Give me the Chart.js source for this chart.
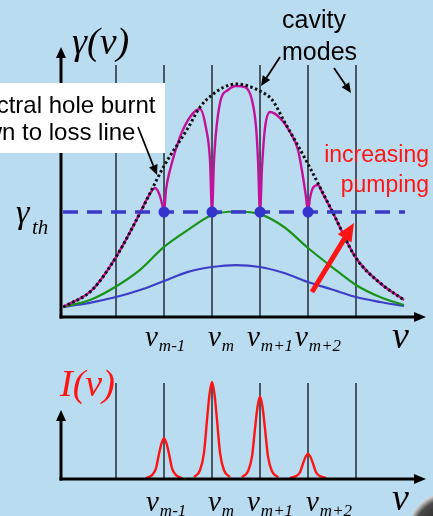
<!DOCTYPE html>
<html>
<head>
<meta charset="utf-8">
<script src="https://cdn.jsdelivr.net/npm/chart.js@4.4.1/dist/chart.umd.min.js"></script>
<style>
  body { margin: 0; width: 433px; height: 516px; overflow: hidden; background: #b9dcf0; position: relative; }
  canvas { position: absolute; left: 0; }
  #gainChart { top: 0; }
  #intChart { top: 360px; }
</style>
</head>
<body>
<canvas id="gainChart" width="433" height="360"></canvas>
<canvas id="intChart" width="433" height="156"></canvas>
<script>
// cavity modes (in units of mode spacing), lasing ones get labels
const modes = [1, 2, 3, 4, 5, 6];
const lasingModes = [2, 3, 4, 5];
const modeSubs = ['m-1', 'm', 'm+1', 'm+2'];

// unsaturated gain (dotted)
const fullX = [-0.1, 0.5, 1, 1.5, 2, 2.5, 2.75, 3, 3.25, 3.5, 3.75, 4, 4.25, 4.5, 5, 5.5, 6, 6.5, 7];
const fullGain = [0.095, 0.257, 0.571, 0.99, 1.438, 1.8, 2.0, 2.114, 2.19, 2.219, 2.2, 2.152, 2.07, 1.867, 1.457, 1.01, 0.562, 0.324, 0.162];

// gain with spectral holes burnt (magenta)
const burntX = [-0.1, 0.5, 1, 1.5, 1.646, 1.8125, 1.917, 1.979, 2, 2.042, 2.125, 2.333, 2.542, 2.75, 2.875, 2.958, 3,
  3.042, 3.167, 3.333, 3.5, 3.6875, 3.833, 3.917, 3.958, 4, 4.042, 4.104, 4.208, 4.417, 4.625, 4.792, 4.896, 4.958, 5,
  5.042, 5.104, 5.208, 5.3125, 5.5, 6, 6.5, 7];
const burntGain = [0.095, 0.257, 0.571, 0.99, 1.124, 1.229, 1.152, 1.038, 1.0, 1.21, 1.4, 1.714, 1.905, 1.981, 1.8, 1.495, 1.0,
  1.495, 2.038, 2.162, 2.2, 2.19, 2.067, 1.81, 1.495, 1.0, 1.429, 1.8, 1.952, 1.895, 1.762, 1.59, 1.333, 1.143, 1.0,
  1.133, 1.229, 1.257, 1.171, 1.01, 0.562, 0.324, 0.162];

// lower pumping levels (green, blue)
const lowX = [-0.1, 0.5, 1, 1.5, 2, 2.5, 3, 3.5, 4, 4.5, 5, 5.5, 6, 6.5, 7];
const midGain = [0.095, 0.17, 0.29, 0.448, 0.667, 0.829, 0.971, 1.005, 0.98, 0.857, 0.657, 0.476, 0.305, 0.19, 0.114];
const lowGain = [0.095, 0.14, 0.19, 0.257, 0.343, 0.43, 0.476, 0.495, 0.476, 0.419, 0.333, 0.262, 0.19, 0.143, 0.105];

// loss line
const thresholdX = [-0.104, 7.02];
const threshold = 1;

// output intensity lines around each lasing mode
const peakOffsets = [-0.375, -0.25, -0.167, -0.104, -0.05, 0, 0.05, 0.104, 0.167, 0.25, 0.375];
const peakMm1 = [0.01, 0.04, 0.11, 0.26, 0.37, 0.42, 0.37, 0.26, 0.11, 0.04, 0.01];
const peakM   = [0.02, 0.09, 0.27, 0.61, 0.88, 1.0, 0.88, 0.61, 0.27, 0.09, 0.02];
const peakMp1 = [0.02, 0.08, 0.23, 0.52, 0.75, 0.85, 0.75, 0.52, 0.23, 0.08, 0.02];
const peakMp2 = [0.01, 0.03, 0.07, 0.16, 0.23, 0.26, 0.23, 0.16, 0.07, 0.03, 0.01];
const peaks = [peakMm1, peakM, peakMp1, peakMp2];

const SERIF = '"Liberation Serif", "Times New Roman", serif';
const SANS = '"Liberation Sans", Arial, sans-serif';

function pts(xs, ys) {
  return xs.map((x, i) => ({ x: x, y: ys[i] }));
}

function modeLines(top) {
  return modes.map(k => ({
    data: [{ x: k, y: 0 }, { x: k, y: top }],
    borderColor: '#30363c', borderWidth: 1.6, pointRadius: 0, order: 10
  }));
}

function arrow(ctx, x1, y1, x2, y2, width, head, half, color) {
  const dx = x2 - x1, dy = y2 - y1, len = Math.hypot(dx, dy);
  const ux = dx / len, uy = dy / len;
  const bx = x2 - ux * head, by = y2 - uy * head;
  ctx.save();
  ctx.strokeStyle = color; ctx.fillStyle = color; ctx.lineWidth = width;
  ctx.beginPath(); ctx.moveTo(x1, y1); ctx.lineTo(bx, by); ctx.stroke();
  ctx.beginPath();
  ctx.moveTo(x2, y2);
  ctx.lineTo(bx - uy * half, by + ux * half);
  ctx.lineTo(bx + uy * half, by - ux * half);
  ctx.closePath(); ctx.fill();
  ctx.restore();
}

function nu(ctx, x, y, sub, size) {
  ctx.fillStyle = '#000';
  ctx.textAlign = 'left';
  ctx.font = 'italic ' + size + 'px ' + SERIF;
  ctx.fillText('ν', x, y);
  if (sub) {
    const w = ctx.measureText('ν').width;
    ctx.font = 'italic 17px ' + SERIF;
    ctx.fillText(sub, x + w + 1, y + 5);
  }
}

// axes, arrows, labels for the gain panel
const gainDecor = {
  id: 'gainDecor',
  afterDatasetsDraw(chart) {
    const ctx = chart.ctx, a = chart.chartArea;
    const sx = chart.scales.x, sy = chart.scales.y;
    const P = (x, y) => [sx.getPixelForValue(x), sy.getPixelForValue(y)];

    arrow(ctx, a.left, a.bottom + 1.5, a.left, a.top - 1, 3, 11, 5, '#000');
    arrow(ctx, a.left - 1.5, a.bottom, a.right + 1, a.bottom, 3, 12, 5, '#000');

    // white box with cropped caption
    ctx.save();
    ctx.fillStyle = '#fff';
    ctx.fillRect(0, 83, 165, 70);
    ctx.fillStyle = '#000';
    ctx.font = '24px ' + SANS;
    ctx.textAlign = 'left';
    ctx.fillText('spectral hole burnt', -42, 113);
    ctx.fillText('down to loss line', -42, 140);
    ctx.restore();

    let p = P(1.458, 1.81), q = P(1.854, 1.352);
    arrow(ctx, p[0], p[1], q[0], q[1], 1.8, 10, 4.5, '#000');
    p = P(4.417, 2.476); q = P(4.021, 2.2);
    arrow(ctx, p[0], p[1], q[0], q[1], 1.8, 10, 4.5, '#000');
    p = P(5.542, 2.371); q = P(5.896, 2.133);
    arrow(ctx, p[0], p[1], q[0], q[1], 1.8, 10, 4.5, '#000');
    p = P(5.083, 0.238); q = P(5.958, 0.895);
    arrow(ctx, p[0], p[1], q[0], q[1], 5, 18, 8, '#ff1414');

    ctx.save();
    ctx.fillStyle = '#000';
    ctx.font = '25px ' + SANS;
    ctx.textAlign = 'left';
    ctx.fillText('cavity', 282, 28);
    ctx.fillText('modes', 282, 60);
    ctx.fillStyle = '#ff1414';
    ctx.font = '23px ' + SANS;
    ctx.textAlign = 'right';
    ctx.fillText('increasing', 429, 162);
    ctx.fillText('pumping', 429, 192);

    ctx.fillStyle = '#000';
    ctx.textAlign = 'left';
    ctx.font = 'italic 38px ' + SERIF;
    ctx.fillText('γ(ν)', 72, 54);
    ctx.font = 'italic 34px ' + SERIF;
    ctx.fillText('γ', 16, 223);
    ctx.font = 'italic 21px ' + SERIF;
    ctx.fillText('th', 32, 234);

    const lx = [145, 208, 247, 295];
    lx.forEach((x, i) => nu(ctx, x, 346, modeSubs[i], 29));
    nu(ctx, 392, 348, '', 38);
    ctx.restore();
  }
};

// axes and labels for the intensity panel
const intDecor = {
  id: 'intDecor',
  afterDatasetsDraw(chart) {
    const ctx = chart.ctx, a = chart.chartArea;
    arrow(ctx, a.left, a.bottom + 1.5, a.left, 50, 3, 11, 5, '#000');
    arrow(ctx, a.left - 1.5, a.bottom, a.right + 1, a.bottom, 3, 12, 5, '#000');

    ctx.save();
    ctx.fillStyle = '#ff1414';
    ctx.font = 'italic 38px ' + SERIF;
    ctx.textAlign = 'left';
    ctx.fillText('I(ν)', 60, 36);
    const lx = [146, 208, 247, 306];
    lx.forEach((x, i) => nu(ctx, x, 151, modeSubs[i], 29));
    nu(ctx, 392, 150, '', 38);

    // glossy corner button
    const g = ctx.createRadialGradient(440, 170, 4, 450, 175, 44);
    g.addColorStop(0, '#1c1c1c');
    g.addColorStop(0.75, '#4a4a4a');
    g.addColorStop(0.92, '#bdbdbd');
    g.addColorStop(1, '#e8e8e8');
    ctx.fillStyle = g;
    ctx.beginPath(); ctx.arc(450, 175, 43, 0, Math.PI * 2); ctx.fill();
    ctx.restore();
  }
};

const commonOpts = (ymax, pad) => ({
  responsive: false,
  animation: false,
  events: [],
  devicePixelRatio: 1,
  layout: { padding: pad },
  plugins: { legend: { display: false }, tooltip: { enabled: false } },
  scales: {
    x: { type: 'linear', min: -0.146, max: 7.4375, display: false },
    y: { type: 'linear', min: 0, max: ymax, display: false }
  }
});

new Chart(document.getElementById('gainChart'), {
  type: 'line',
  data: {
    datasets: [
      { data: lasingModes.map(k => ({ x: k, y: threshold })), showLine: false,
        pointRadius: 5.5, pointBackgroundColor: '#3434cc', pointBorderWidth: 0, order: 0 },
      { data: pts(thresholdX, [threshold, threshold]), borderColor: '#3a3ac8', borderWidth: 3.5,
        borderDash: [15, 9], pointRadius: 0, order: 1 },
      { data: pts(fullX, fullGain), borderColor: '#111', borderWidth: 3, borderDash: [2.5, 2.5],
        pointRadius: 0, cubicInterpolationMode: 'monotone', order: 2 },
      { data: pts(burntX, burntGain), borderColor: '#c4119c', borderWidth: 2.4,
        pointRadius: 0, cubicInterpolationMode: 'monotone', order: 3 },
      { data: pts(lowX, midGain), borderColor: '#1b931b', borderWidth: 2.2,
        pointRadius: 0, cubicInterpolationMode: 'monotone', order: 4 },
      { data: pts(lowX, lowGain), borderColor: '#3b3fc6', borderWidth: 2.2,
        pointRadius: 0, cubicInterpolationMode: 'monotone', order: 5 },
      ...modeLines(2.4)
    ]
  },
  options: commonOpts(2.562, { left: 61, right: 8, top: 48, bottom: 43 }),
  plugins: [gainDecor]
});

new Chart(document.getElementById('intChart'), {
  type: 'line',
  data: {
    datasets: [
      ...peaks.map((vals, i) => ({
        data: pts(peakOffsets.map(o => lasingModes[i] + o), vals),
        borderColor: '#ff1414', borderWidth: 2.4, pointRadius: 0,
        cubicInterpolationMode: 'monotone', order: 0
      })),
      ...modeLines(0.99)
    ]
  },
  options: commonOpts(1.0206, { left: 61, right: 8, top: 20, bottom: 37 }),
  plugins: [intDecor]
});
</script>
</body>
</html>
